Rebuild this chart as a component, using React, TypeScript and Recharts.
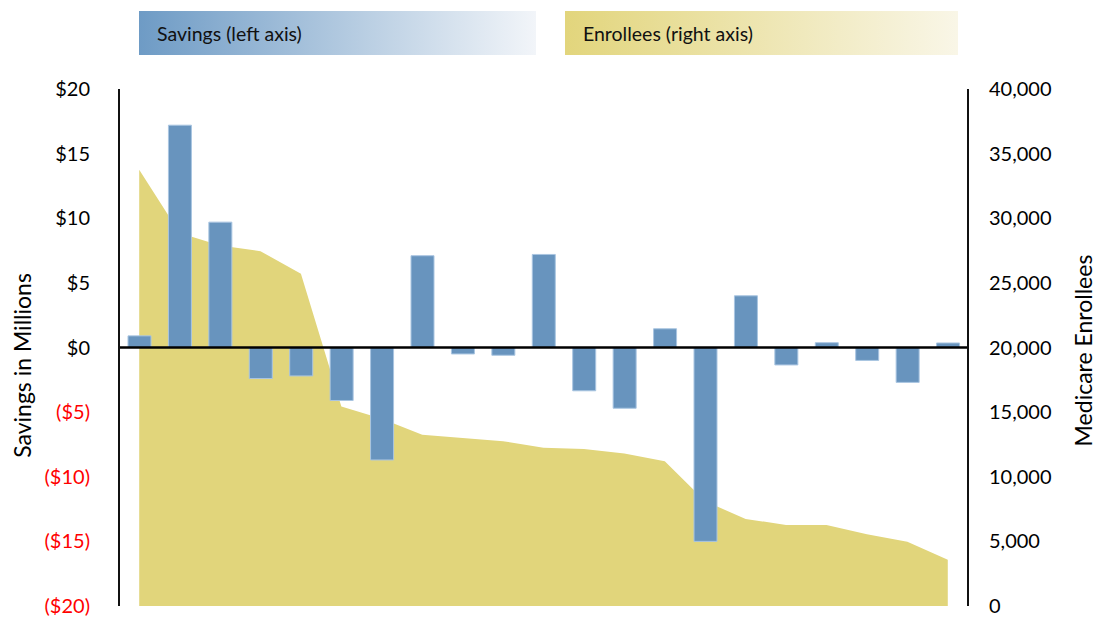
import React from 'react';
import { ComposedChart, Bar, Area, XAxis, YAxis, ReferenceLine, Legend } from 'recharts';

const categories = ['1', '2', '3', '4', '5', '6', '7', '8', '9', '10', '11', '12', '13', '14', '15', '16', '17', '18', '19', '20', '21'];
const savings = [0.9, 17.2, 9.7, -2.4, -2.2, -4.1, -8.7, 7.1, -0.5, -0.6, 7.2, -3.35, -4.7, 1.45, -15.0, 4.0, -1.35, 0.37, -1.0, -2.7, 0.35];
const enrollees = [33760, 28860, 27900, 27450, 25700, 15430, 14480, 13240, 13000, 12750, 12240, 12140, 11800, 11200, 8100, 6740, 6270, 6270, 5560, 4980, 3570];
const savingsTicks = [-20, -15, -10, -5, 0, 5, 10, 15, 20];
const enrolleeTicks = [0, 5000, 10000, 15000, 20000, 25000, 30000, 35000, 40000];

const data = categories.map((name, i) => ({ name, savings: savings[i], enrollees: enrollees[i] }));

const FONT = 'Lato, "Open Sans", sans-serif';
const BAR = '#6894BE';
const AREA = '#E1D57B';

const fmtSavings = (v: number) => (v < 0 ? `($${-v})` : `$${v}`);
const fmtEnrollees = (v: number) => v.toLocaleString('en-US');

const LeftTick = (props: any) => {
  const { x, y, payload } = props;
  const v = payload.value;
  return (
    <text x={x} y={y} dy="0.355em" textAnchor="end" fill={v < 0 ? '#ff0000' : '#000'} fontSize={20} fontFamily={FONT}>
      {fmtSavings(v)}
    </text>
  );
};

const RightTick = (props: any) => {
  const { x, y, payload } = props;
  return (
    <text x={x} y={y} dy="0.355em" textAnchor="start" fill="#000" fontSize={20} fontFamily={FONT}>
      {fmtEnrollees(payload.value)}
    </text>
  );
};

const LeftLabel = (props: any) => {
  const vb = props.viewBox || {};
  const cx = (vb.x ?? 0) + 22;
  const cy = (vb.y ?? 0) + (vb.height ?? 0) / 2 + 18;
  return (
    <text x={cx} y={cy} transform={`rotate(-90 ${cx} ${cy})`} textAnchor="middle" dominantBaseline="central" fontSize={23} fontFamily={FONT} fill="#000">
      Savings in Millions
    </text>
  );
};

const RightLabel = (props: any) => {
  const vb = props.viewBox || {};
  const cx = (vb.x ?? 0) + 115;
  const cy = (vb.y ?? 0) + (vb.height ?? 0) / 2 + 3;
  return (
    <text x={cx} y={cy} transform={`rotate(-90 ${cx} ${cy})`} textAnchor="middle" dominantBaseline="central" fontSize={23} fontFamily={FONT} fill="#000">
      Medicare Enrollees
    </text>
  );
};

const LegendContent = () => (
  <div style={{ position: 'relative', width: 1110, height: 60, fontFamily: FONT }}>
    <div
      style={{
        position: 'absolute', left: 139, top: 11, width: 397, height: 44,
        background: 'linear-gradient(to right, #6e9bc5, #f2f5f9)',
        display: 'flex', alignItems: 'center', boxSizing: 'border-box', paddingLeft: 18,
        fontSize: 19.5, color: '#111',
      }}
    >
      Savings (left axis)
    </div>
    <div
      style={{
        position: 'absolute', left: 565, top: 11, width: 393, height: 44,
        background: 'linear-gradient(to right, #e2d57c, #f9f6e7)',
        display: 'flex', alignItems: 'center', boxSizing: 'border-box', paddingLeft: 18,
        fontSize: 19.5, color: '#111',
      }}
    >
      Enrollees (right axis)
    </div>
  </div>
);

export default function App() {
  return (
    <div style={{ position: 'absolute', left: 0, top: 0, width: 1110, height: 621, background: '#fff' }}>
      <ComposedChart width={1110} height={621} data={data} margin={{ top: 89, right: 0, bottom: 15, left: 0 }} barSize={23}>
        <XAxis dataKey="name" hide />
        <YAxis
          yAxisId="left"
          orientation="left"
          width={119}
          domain={[-20, 20]}
          ticks={savingsTicks}
          interval={0}
          allowDataOverflow
          tick={<LeftTick />}
          tickLine={false}
          tickSize={0}
          tickMargin={29}
          axisLine={{ stroke: '#111', strokeWidth: 2 }}
          label={<LeftLabel />}
        />
        <YAxis
          yAxisId="right"
          orientation="right"
          width={142}
          domain={[0, 40000]}
          ticks={enrolleeTicks}
          interval={0}
          allowDataOverflow
          tick={<RightTick />}
          tickLine={false}
          tickSize={0}
          tickMargin={21}
          axisLine={{ stroke: '#111', strokeWidth: 2 }}
          label={<RightLabel />}
        />
        <Legend verticalAlign="middle" align="center" layout="horizontal" content={<LegendContent />} wrapperStyle={{ top: 0, left: 0, width: 1110, height: 60 }} />
        <Area yAxisId="right" type="linear" dataKey="enrollees" fill={AREA} fillOpacity={1} stroke="none" isAnimationActive={false} />
        <Bar yAxisId="left" dataKey="savings" fill={BAR} stroke="#A9C5E1" strokeWidth={1} isAnimationActive={false} />
        <ReferenceLine yAxisId="left" y={0} stroke="#000" strokeWidth={2.5} />
      </ComposedChart>
    </div>
  );
}
